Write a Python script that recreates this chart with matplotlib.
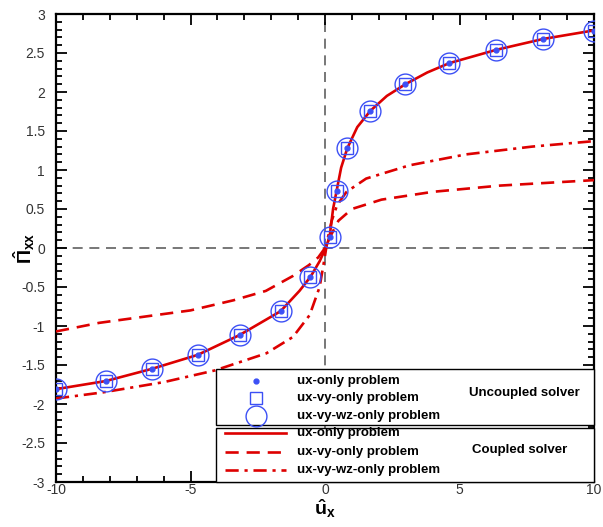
import matplotlib
matplotlib.use("Agg")
import matplotlib.pyplot as plt
from matplotlib.patches import Rectangle
from matplotlib.lines import Line2D
from matplotlib.ticker import MultipleLocator, FormatStrFormatter

plt.rcParams['font.family'] = ['Liberation Sans', 'DejaVu Sans']
plt.rcParams['axes.unicode_minus'] = False
plt.rcParams['mathtext.fontset'] = 'custom'
plt.rcParams['mathtext.rm'] = 'Liberation Sans:bold'
plt.rcParams['mathtext.it'] = 'Liberation Sans:bold'
plt.rcParams['mathtext.bf'] = 'Liberation Sans:bold'

# Uncoupled solver (markers)
x_pts = [-10, -8.14, -6.44, -4.73, -3.17, -1.65, -0.54, 0.17, 0.43, 0.83, 1.69, 2.99, 4.62, 6.36, 8.11, 10]
y_unc_ux = [-1.81, -1.705, -1.55, -1.37, -1.115, -0.81, -0.37, 0.14, 0.73, 1.28, 1.76, 2.10, 2.37, 2.54, 2.68, 2.78]
y_unc_uxvy = [-1.81, -1.705, -1.55, -1.37, -1.115, -0.81, -0.37, 0.14, 0.73, 1.28, 1.76, 2.10, 2.37, 2.54, 2.68, 2.78]
y_unc_uxvywz = [-1.81, -1.705, -1.55, -1.37, -1.115, -0.81, -0.37, 0.14, 0.73, 1.28, 1.76, 2.10, 2.37, 2.54, 2.68, 2.78]

# Coupled solver (lines)
x_cp_ux = [-10, -8.14, -6.44, -4.73, -3.17, -1.65, -0.95, -0.54, -0.2, 0.0, 0.17, 0.3, 0.43, 0.6, 0.83, 1.2, 1.69, 2.3, 2.99, 3.8, 4.62, 6.36, 8.11, 10]
y_cp_ux = [-1.81, -1.705, -1.55, -1.37, -1.115, -0.81, -0.55, -0.37, -0.17, -0.02, 0.14, 0.5, 0.73, 1.03, 1.28, 1.55, 1.76, 1.95, 2.10, 2.25, 2.37, 2.54, 2.68, 2.79]

x_cp_uxvy = [-10, -8.4, -6.5, -5.0, -3.4, -2.2, -1.2, -0.6, -0.25, 0.0, 0.2, 0.5, 1.0, 2.1, 4.0, 6.5, 10]
y_cp_uxvy = [-1.07, -0.96, -0.87, -0.8, -0.67, -0.55, -0.36, -0.22, -0.12, 0.0, 0.15, 0.35, 0.5, 0.62, 0.72, 0.8, 0.87]

x_cp_uxvywz = [-10, -8.24, -6.0, -4.1, -2.18, -1.19, -0.57, -0.2, 0.0, 0.1, 0.25, 0.45, 0.8, 1.53, 3.14, 5.24, 7.7, 10]
y_cp_uxvywz = [-1.93, -1.85, -1.72, -1.57, -1.35, -1.14, -0.86, -0.5, -0.1, 0.12, 0.35, 0.55, 0.72, 0.89, 1.06, 1.2, 1.3, 1.37]

blue = '#3c50f5'
red = '#dd0000'

fig = plt.figure(figsize=(6.03, 5.27), dpi=100)
ax = fig.add_axes([56/603, 45/527, 538/603, 468/527])

ax.axvline(0, color='#606060', lw=1.2, ls=(0, (6, 4)), zorder=1)
ax.axhline(0, color='#606060', lw=1.2, ls=(0, (6, 4)), zorder=1)

ax.plot(x_cp_ux, y_cp_ux, color=red, lw=1.9, zorder=3)
ax.plot(x_cp_uxvy, y_cp_uxvy, color=red, lw=1.9, ls=(0, (5, 3)), zorder=3)
ax.plot(x_cp_uxvywz, y_cp_uxvywz, color=red, lw=1.9, ls=(0, (5, 2.2, 1.2, 2.2)), zorder=3)

ax.plot(x_pts, y_unc_uxvywz, ls='none', marker='o', ms=15, mfc='none', mec=blue, mew=1.0, zorder=4)
ax.plot(x_pts, y_unc_uxvy, ls='none', marker='s', ms=8, mfc='none', mec=blue, mew=1.0, zorder=4)
ax.plot(x_pts, y_unc_ux, ls='none', marker='o', ms=3.5, mfc=blue, mec=blue, zorder=4)

ax.set_xlim(-10, 10)
ax.set_ylim(-3, 3)
ax.xaxis.set_major_locator(MultipleLocator(5))
ax.xaxis.set_minor_locator(MultipleLocator(1))
ax.yaxis.set_major_locator(MultipleLocator(0.5))
ax.yaxis.set_minor_locator(MultipleLocator(0.1))
ax.xaxis.set_major_formatter(FormatStrFormatter('%g'))
ax.yaxis.set_major_formatter(FormatStrFormatter('%g'))
ax.tick_params(which='both', direction='in', top=True, right=True, width=1.3, colors='black',
               labelcolor='#333333', labelsize=10)
ax.tick_params(which='major', length=8)
ax.tick_params(which='minor', length=4.5)
ax.tick_params(axis='x', pad=1)
ax.tick_params(axis='y', pad=8)
for s in ax.spines.values():
    s.set_linewidth(1.6)

ax.set_xlabel(r'$\hat{u}_x$', fontsize=14, labelpad=0)
ax.set_ylabel(r'$\hat{\Pi}_{xx}$', fontsize=14)
ax.yaxis.set_label_coords(-0.036, 0.5)

# Legend boxes (manual)
T = ax.transAxes
ax.add_patch(Rectangle((0.297, 0.122), 0.703, 0.119, transform=T, facecolor='white',
                       edgecolor='black', lw=1.0, zorder=6, clip_on=False))
ax.add_patch(Rectangle((0.297, 0.0), 0.703, 0.116, transform=T, facecolor='white',
                       edgecolor='black', lw=1.0, zorder=6, clip_on=False))

labels = ['ux-only problem', 'ux-vy-only problem', 'ux-vy-wz-only problem']
rows1 = [0.216, 0.179, 0.141]
rows2 = [0.104, 0.064, 0.026]
mk = [dict(marker='o', ms=3.5, mfc=blue, mec=blue),
      dict(marker='s', ms=8, mfc='none', mec=blue, mew=1.0),
      dict(marker='o', ms=15, mfc='none', mec=blue, mew=1.0)]
for r, lab, m in zip(rows1, labels, mk):
    ax.add_line(Line2D([0.372], [r], transform=T, ls='none', zorder=7, clip_on=False, **m))
    ax.text(0.448, r, lab, transform=T, fontsize=9.5, fontweight='bold', va='center', ha='left', zorder=7)
lstyles = ['-', (0, (5, 3)), (0, (5, 2.2, 1.2, 2.2))]
for r, lab, st in zip(rows2, labels, lstyles):
    ax.add_line(Line2D([0.314, 0.428], [r, r], transform=T, color=red, lw=1.9, ls=st, zorder=7, clip_on=False))
    ax.text(0.448, r, lab, transform=T, fontsize=9.5, fontweight='bold', va='center', ha='left', zorder=7)
ax.text(0.870, 0.190, 'Uncoupled solver', transform=T, fontsize=9.5, fontweight='bold', va='center', ha='center', zorder=7)
ax.text(0.861, 0.068, 'Coupled solver', transform=T, fontsize=9.5, fontweight='bold', va='center', ha='center', zorder=7)

fig.savefig('out.png', dpi=100)
